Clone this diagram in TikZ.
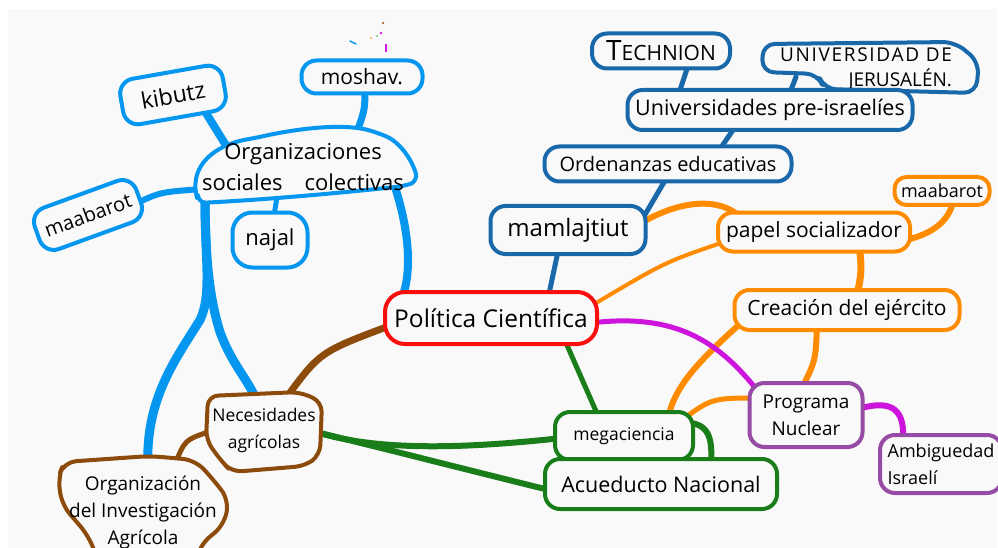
\documentclass[tikz,border=0pt]{standalone}
\usepackage{fontspec}
\setmainfont{Open Sans}
\usetikzlibrary{calc}

\definecolor{paper}{HTML}{F9F9F9}
\definecolor{skyblue}{RGB}{5,150,240}
\definecolor{deepblue}{RGB}{25,105,170}
\definecolor{tangerine}{RGB}{255,140,0}
\definecolor{scarlet}{RGB}{250,15,15}
\definecolor{violet1}{RGB}{205,20,220}
\definecolor{plum}{RGB}{150,75,165}
\definecolor{leaf}{RGB}{25,125,25}
\definecolor{bark}{RGB}{140,75,10}

\newcommand\fsz[2]{\fontsize{#1}{#2}\selectfont}

\pgfdeclarelayer{ground}
\pgfdeclarelayer{links}
\pgfsetlayers{ground,links,main}

\tikzset{
  bubble/.style={draw=#1, line width=4pt, rounded corners=15pt, fill=paper,
                 inner sep=0pt, align=center},
  handtext/.style={inner sep=0pt, align=center},
  blob/.style={draw=#1, fill=paper, line width=4pt, line join=round},
  link/.style={draw=#1, line width=5pt, line cap=round},
}

\begin{document}
\begin{tikzpicture}[x=1pt,y=-1pt]
\useasboundingbox (0,0) rectangle (998,548);
\begin{pgfonlayer}{ground}
\fill[white] (0,0) rectangle (998,548);
\fill[paper] (8,9) rectangle (997,548);
\end{pgfonlayer}

% ---- social organisations (left cluster)
\node[bubble=skyblue, minimum width=104pt, minimum height=46pt, rotate=10, font=\fsz{23}{26}] (kibutz) at (173,95) {kibutz};
\node[bubble=skyblue, minimum width=121pt, minimum height=33pt, font=\fsz{21}{24}] (moshav) at (362,77) {moshav.};
\node[bubble=skyblue, minimum width=108pt, minimum height=44pt, rotate=20, font=\fsz{20}{24}] (maabarotA) at (88,215) {maabarot};
\node[bubble=skyblue, minimum width=75pt, minimum height=55pt, rounded corners=20pt, font=\fsz{22}{24}] (najal) at (270,240) {najal};

\path[blob=skyblue, rounded corners=8pt]
  (198,203) .. controls (190,165) and (215,145) .. (255,138)
  .. controls (300,128) and (345,123) .. (378,133)
  .. controls (400,142) and (412,160) .. (418,181)
  -- (405,186) .. controls (330,194) and (260,200) .. cycle;
\node[handtext, font=\fsz{22}{31}] (org) at (303,167) {Organizaciones\\sociales\quad colectivas};

% ---- universities (upper right)
\node[bubble=deepblue, minimum width=138pt, minimum height=35pt, font=\fsz{21}{22}] (technion) at (661,51) {{\fsz{28}{24}T}ECHNION};
\path[blob=deepblue, rounded corners=12pt]
  (763,44) -- (955,42) -- (979,62) -- (976,93) -- (824,89) -- (818,74) -- (762,72) -- cycle;
\node[handtext, align=right, font=\fsz{19}{25}] (jerusalen) at (866,69)
  {{\addfontfeatures{LetterSpace=9}UNIVERSIDAD DE}\\JERUSALÉN.};
\node[bubble=deepblue, minimum width=285pt, minimum height=40pt, font=\fsz{21.5}{24}] (univ) at (770,110) {Universidades pre-israelíes};
\node[bubble=deepblue, minimum width=247pt, minimum height=35pt, font=\fsz{20}{22}] (orden) at (668,164) {Ordenanzas educativas};
\node[bubble=deepblue, minimum width=155pt, minimum height=48pt, font=\fsz{24}{26}] (mamla) at (568,230) {mamlajtiut};

% ---- army and socialisation
\node[bubble=tangerine, minimum width=192pt, minimum height=39pt, font=\fsz{21}{22}] (papel) at (814,232) {papel socializador};
\node[bubble=tangerine, minimum width=95pt, minimum height=28pt, rounded corners=12pt, font=\fsz{18}{22}] (maabarotB) at (942,191) {maabarot};
\node[bubble=tangerine, minimum width=225pt, minimum height=40pt, font=\fsz{21}{22}] (creacion) at (847,310) {Creación del ejército};

% ---- central topic
\node[bubble=scarlet, minimum width=212pt, minimum height=52pt, rounded corners=20pt, font=\fsz{24.5}{26}] (politica) at (491,318) {Política Científica};

% ---- nuclear programme
\node[bubble=plum, minimum width=113pt, minimum height=64pt, font=\fsz{19}{27}] (programa) at (806,415) {Programa\\Nuclear};
\node[bubble=plum, minimum width=122pt, minimum height=58pt, align=left, font=\fsz{18}{27}] (ambiguedad) at (941,464) {Ambiguedad\\Israelí};

% ---- big science
\node[bubble=leaf, minimum width=138pt, minimum height=48pt, font=\fsz{17.5}{20}] (mega) at (624,436) {megaciencia};
\node[bubble=leaf, minimum width=232pt, minimum height=50pt, font=\fsz{21.5}{24}] (acueducto) at (661,484) {Acueducto Nacional};

% ---- agriculture
\path[blob=bark, rounded corners=10pt]
  (208,396) -- (300,392) -- (322,402) -- (320,455) -- (305,466) -- (232,472) -- (222,462) -- (206,440) -- cycle;
\node[handtext, font=\fsz{17.5}{27}] (necesidades) at (264,430) {Necesidades\\agrícolas};
\path[blob=bark, rounded corners=12pt]
  (64,462) -- (150,456) -- (195,460) -- (212,478) -- (229,500) -- (224,525) -- (200,545)
  -- (195,565) -- (100,565) -- (88,535) -- (62,505) -- (58,478) -- cycle;
\node[handtext, font=\fsz{19}{27}] (investigacion) at (143,512) {Organización\\del Investigación\\Agrícola};

% ---- connectors
\begin{pgfonlayer}{links}
\draw[link=skyblue, line width=8pt] ($(kibutz)+(28,10)$) -- ($(org)+(-76,-20)$);
\draw[link=skyblue, line width=7pt] ($(moshav)+(3,10)$) .. controls (365,110) .. ($(org)+(52,-30)$);
\draw[link=skyblue, line width=6pt] ($(maabarotA)+(45,-10)$) .. controls (160,192) .. ($(org)+(-100,22)$);
\draw[link=skyblue, line width=5pt] (najal) -- ($(org)+(-26,30)$);
% one trunk that forks towards the two agricultural nodes
\draw[link=skyblue, line width=9pt] ($(org)+(-98,30)$) .. controls (205,260) and (210,300) .. (220,332)
  .. controls (232,365) and (250,382) .. ($(necesidades)+(-8,-30)$);
\draw[link=skyblue, line width=9pt] ($(org)+(-98,30)$) .. controls (205,260) and (212,295) .. (200,320)
  .. controls (175,360) and (145,400) .. ($(investigacion)+(5,-45)$);
\draw[link=skyblue, line width=8pt] ($(org)+(92,20)$) .. controls (412,240) and (414,290) .. ($(politica)+(-100,0)$);

\draw[link=deepblue] ($(technion)+(28,12)$) -- ($(univ)+(-95,-5)$);
\draw[link=deepblue] ($(jerusalen)+(-70,8)$) -- ($(univ)+(15,-5)$);
\draw[link=deepblue] ($(univ)+(-30,10)$) -- ($(orden)+(45,-5)$);
\draw[link=deepblue] ($(orden)+(2,8)$) -- ($(mamla)+(75,-12)$);
\draw[link=deepblue] ($(mamla)+(-8,12)$) -- ($(politica)+(55,-10)$);

\draw[link=tangerine, line width=6pt] ($(mamla)+(75,-8)$) .. controls (690,195) and (735,198) .. ($(papel)+(-65,-2)$);
\draw[link=tangerine, line width=6pt] ($(papel)+(92,8)$) .. controls (940,232) and (952,215) .. ($(maabarotB)+(12,5)$);
\draw[link=tangerine, line width=4pt] ($(papel)+(-90,10)$) .. controls (665,262) .. ($(politica)+(100,-12)$);
\draw[link=tangerine, line width=7pt] ($(papel)+(45,10)$) .. controls (862,272) .. ($(creacion)+(8,-5)$);
\draw[link=tangerine, line width=6pt] ($(creacion)+(-105,12)$) .. controls (700,360) and (675,385) .. ($(mega)+(44,-18)$);
\draw[link=tangerine, line width=6pt] ($(creacion)+(-30,10)$) .. controls (816,360) .. ($(programa)+(-5,-25)$);
\draw[link=tangerine] ($(mega)+(58,-16)$) .. controls (712,398) .. ($(programa)+(-45,-17)$);

\draw[link=violet1] ($(politica)+(100,5)$) .. controls (680,312) and (722,345) .. ($(programa)+(-45,-20)$);
\draw[link=violet1, line width=6pt] ($(programa)+(52,-6)$) .. controls (895,398) and (905,412) .. ($(ambiguedad)+(-38,-22)$);

\draw[link=leaf] ($(politica)+(72,18)$) -- ($(mega)+(-25,-18)$);
\draw[link=leaf, line width=6pt] ($(necesidades)+(52,2)$) .. controls (380,452) and (470,448) .. ($(mega)+(-62,2)$);
\draw[link=leaf, line width=6pt] ($(necesidades)+(52,2)$) .. controls (390,450) and (460,468) .. ($(acueducto)+(-112,6)$);
\draw[link=leaf, line width=6pt] ($(mega)+(66,-13)$) .. controls (712,425) and (712,445) .. ($(acueducto)+(50,-20)$);

\draw[link=bark, line width=7pt] ($(politica)+(-102,8)$) .. controls (320,352) .. ($(necesidades)+(22,-32)$);
\draw[link=bark] ($(necesidades)+(-56,2)$) .. controls (185,440) .. ($(investigacion)+(32,-48)$);
\end{pgfonlayer}

% ---- small pen marks near the top
\draw[skyblue, line width=1.5pt, line cap=round] (350,41) -- (356,44);
\fill[tangerine!70] (371,38) circle (1.2);
\fill[leaf!60] (377,36) circle (1);
\fill[violet1] (381,33) circle (1.3);
\fill[bark] (383,23) circle (1.2);
\draw[violet1, line width=1.2pt] (386,44) -- (386,52);
\end{tikzpicture}
\end{document}
